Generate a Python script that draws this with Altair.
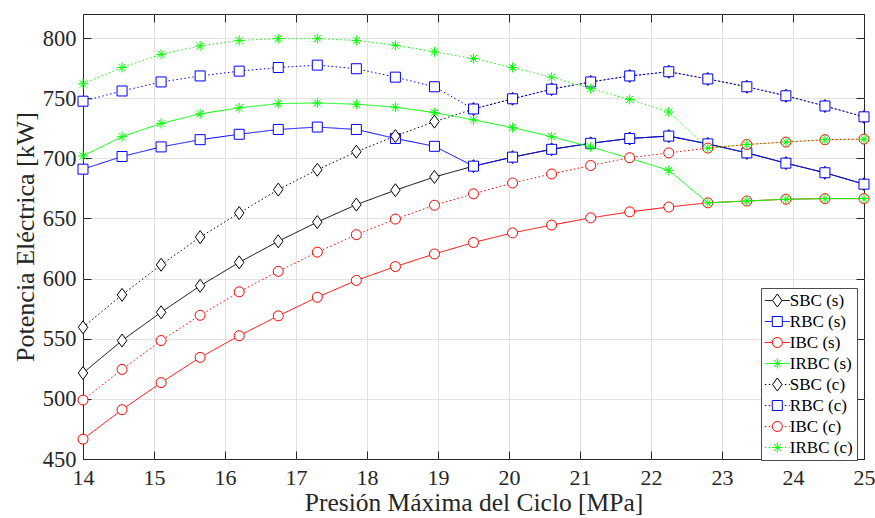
import altair as alt
import pandas as pd

# Maximum cycle pressure [MPa]
pressure = [14.0, 14.55, 15.1, 15.65, 16.2, 16.75, 17.3, 17.85, 18.4, 18.95, 19.5,
            20.05, 20.6, 21.15, 21.7, 22.25, 22.8, 23.35, 23.9, 24.45, 25.0]

# Electric power [kW] for each cycle configuration
sbc_s = [521.5, 548.5, 572.0, 594.0, 613.5, 631.0, 647.0, 661.5, 673.5, 684.5, 693.5,
         701.0, 707.5, 712.5, 716.5, 718.5, 712.0, 704.5, 696.0, 688.0, 678.5]
rbc_s = [691.0, 701.5, 709.5, 715.5, 720.0, 724.0, 726.0, 724.0, 716.5, 710.0, 693.5,
         701.0, 707.5, 712.5, 716.5, 718.5, 712.0, 704.5, 696.0, 688.0, 678.5]
ibc_s = [466.5, 491.0, 513.5, 534.5, 552.5, 569.0, 584.5, 598.5, 610.0, 620.5, 630.0,
         638.0, 644.5, 650.5, 655.5, 659.5, 663.0, 664.5, 666.0, 666.5, 666.5]
irbc_s = [702.0, 718.0, 729.0, 737.0, 742.0, 745.5, 746.0, 745.0, 742.5, 738.0, 732.0,
          725.5, 718.0, 709.5, 700.0, 690.0, 663.0, 664.5, 666.0, 666.5, 666.5]
sbc_c = [559.5, 586.5, 611.5, 634.5, 654.5, 674.0, 690.5, 705.5, 718.5, 730.5, 741.0,
         749.5, 757.5, 763.5, 768.5, 772.0, 766.0, 759.5, 752.0, 743.5, 734.5]
rbc_c = [747.5, 756.0, 763.5, 768.5, 772.5, 775.5, 777.5, 774.5, 767.5, 759.5, 741.0,
         749.5, 757.5, 763.5, 768.5, 772.0, 766.0, 759.5, 752.0, 743.5, 734.5]
ibc_c = [499.0, 524.5, 548.5, 569.5, 589.0, 606.0, 622.0, 636.5, 649.5, 661.0, 670.5,
         679.5, 687.0, 694.0, 700.5, 704.5, 708.5, 711.5, 713.5, 715.5, 716.0]
irbc_c = [762.0, 775.5, 786.5, 793.5, 798.0, 799.5, 799.5, 798.0, 794.0, 788.5, 783.0,
          775.5, 767.5, 758.0, 749.0, 738.5, 708.5, 711.5, 713.5, 715.5, 716.0]

series_names = ["SBC (s)", "RBC (s)", "IBC (s)", "IRBC (s)",
                "SBC (c)", "RBC (c)", "IBC (c)", "IRBC (c)"]
series_values = [sbc_s, rbc_s, ibc_s, irbc_s, sbc_c, rbc_c, ibc_c, irbc_c]

x_ticks = list(range(14, 26))
y_ticks = list(range(450, 801, 50))

# Styles
line_colors = ["#000000", "#0000ff", "#ff0000", "#00ff00"] * 2
dash_styles = [[1, 0]] * 4 + [[1.5, 2.5]] * 4
DIAMOND = "M-0.95,0L0,-1.3L0.95,0L0,1.3Z"
ASTERISK = "M-1,0L1,0M0,-1L0,1M-0.72,-0.72L0.72,0.72M-0.72,0.72L0.72,-0.72"
marker_shapes = [DIAMOND, "square", "circle", ASTERISK] * 2

# separate keys for the line legend so it is not merged with the marker legend
line_keys = [n + "\u200b" for n in series_names]

rows = []
for name, key, vals in zip(series_names, line_keys, series_values):
    for p, v in zip(pressure, vals):
        rows.append({"p": p, "kw": v, "serie": name, "trazo": key})
df = pd.DataFrame(rows)

FONT = "Liberation Serif"
INK = "#262626"
GRID = "#e2e2e2"

x_scale = alt.Scale(domain=[14, 25], nice=False, zero=False)
y_scale = alt.Scale(domain=[450, 820], nice=False, zero=False)

hide_x_edges = {"condition": {"test": "datum.value == 14 || datum.value == 25", "value": 0}, "value": 1}
hide_y_edges = {"condition": {"test": "datum.value == 450", "value": 0}, "value": 1}

x_bottom = alt.Axis(values=x_ticks, orient="bottom", offset=-8, tickSize=8, tickColor=INK,
                    domain=False, grid=True, gridColor=GRID, gridOpacity=hide_x_edges,
                    labelFont=FONT, labelFontSize=22, labelColor=INK, labelPadding=8,
                    labelFlush=False,
                    title="Presión Máxima del Ciclo [MPa]", titleFont=FONT, titleFontSize=25.5,
                    titleFontWeight="normal", titleColor=INK, titlePadding=2)
y_left = alt.Axis(values=y_ticks, orient="left", offset=-8, tickSize=8, tickColor=INK,
                  domain=False, grid=True, gridColor=GRID, gridOpacity=hide_y_edges,
                  labelFont=FONT, labelFontSize=22.5, labelColor=INK, labelPadding=7,
                  labelFlush=False,
                  title="Potencia Eléctrica [kW]", titleFont=FONT, titleFontSize=26,
                  titleFontWeight="normal", titleColor=INK, titlePadding=4)
x_top = alt.Axis(values=x_ticks, orient="top", offset=-8, tickSize=8, tickColor=INK,
                 domain=False, grid=False, labels=False, title=None)
y_right = alt.Axis(values=y_ticks, orient="right", offset=-8, tickSize=8, tickColor=INK,
                   domain=False, grid=False, labels=False, title=None)

base = alt.Chart(df)

axes_main = base.mark_point(opacity=0).encode(
    x=alt.X("p:Q", scale=x_scale, axis=x_bottom),
    y=alt.Y("kw:Q", scale=y_scale, axis=y_left),
)
axes_opposite = base.mark_point(opacity=0).encode(
    x=alt.X("p:Q", scale=x_scale, axis=x_top),
    y=alt.Y("kw:Q", scale=y_scale, axis=y_right),
)

legend_common = dict(orient="none", legendX=678, legendY=274, title=None,
                     symbolSize=100, symbolStrokeWidth=1, symbolOffset=3.8,
                     labelOffset=4, labelFont=FONT, labelFontSize=17,
                     padding=4, rowPadding=3)
legend_lines = alt.Legend(symbolType="M-2.5,0L2.5,0", labelOpacity=0,
                          fillColor="white", strokeColor="#4d4d4d", **legend_common)
legend_marks = alt.Legend(symbolFillColor="white", labelColor="#000000", **legend_common)

layers = [axes_main, axes_opposite]
for name in series_names:
    sub = base.transform_filter(alt.datum.serie == name)
    line = sub.mark_line(strokeWidth=1).encode(
        x=alt.X("p:Q", scale=x_scale, axis=None),
        y=alt.Y("kw:Q", scale=y_scale, axis=None),
        color=alt.Color("trazo:N", scale=alt.Scale(domain=line_keys, range=line_colors),
                        legend=legend_lines),
        strokeDash=alt.StrokeDash("trazo:N", scale=alt.Scale(domain=line_keys, range=dash_styles),
                                  legend=legend_lines),
    )
    pts = sub.mark_point(filled=True, fill="white", size=100, strokeWidth=1, opacity=1).encode(
        x=alt.X("p:Q", scale=x_scale, axis=None),
        y=alt.Y("kw:Q", scale=y_scale, axis=None),
        stroke=alt.Stroke("serie:N", scale=alt.Scale(domain=series_names, range=line_colors),
                          legend=legend_marks),
        shape=alt.Shape("serie:N", scale=alt.Scale(domain=series_names, range=marker_shapes),
                        legend=legend_marks),
    )
    layers += [line, pts]

chart = (
    alt.layer(*layers)
    .resolve_axis(x="independent", y="independent")
    .properties(width=781, height=445,
                autosize=alt.AutoSizeParams(type="none"),
                padding={"left": 83, "top": 14, "right": 11, "bottom": 59},
                background="white")
    .configure_view(stroke=INK, strokeWidth=1)
)

chart.save("out.html", embed_options={"renderer": "svg", "actions": False})
